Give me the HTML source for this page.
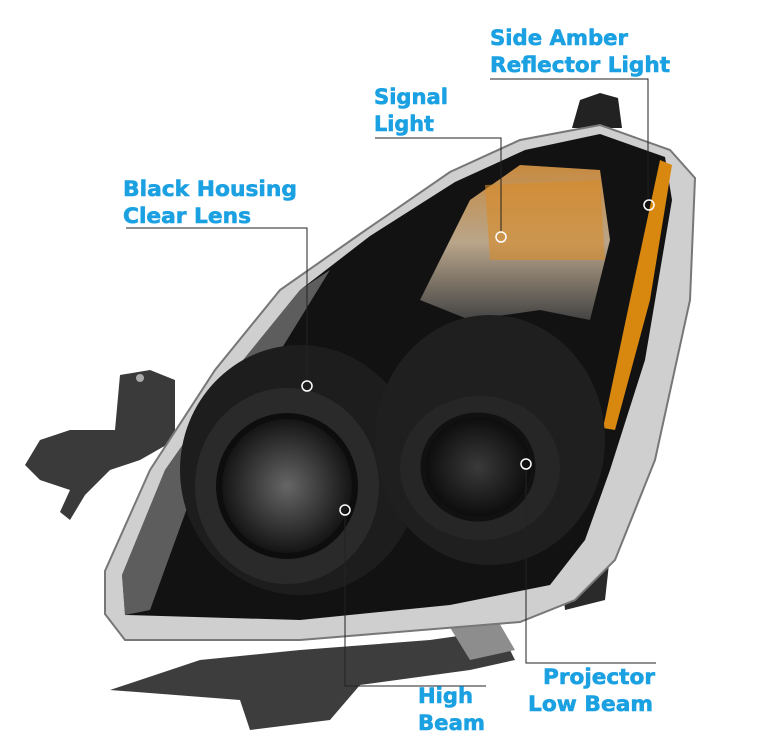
<!DOCTYPE html>
<html><head><style>
html,body{margin:0;padding:0;background:#fff;width:780px;height:750px;overflow:hidden}
svg{display:block}
text{font-family:"DejaVu Sans","Liberation Sans",sans-serif;font-weight:bold;font-size:21px;fill:#1ba1e2;stroke:#1ba1e2;stroke-width:0.6}
</style></head><body>
<svg width="780" height="750" viewBox="0 0 780 750">
<defs>
<radialGradient id="hb" cx="0.5" cy="0.5" r="0.5"><stop offset="0" stop-color="#666"/><stop offset="0.6" stop-color="#333"/><stop offset="1" stop-color="#111"/></radialGradient>
<radialGradient id="pj" cx="0.5" cy="0.5" r="0.5"><stop offset="0" stop-color="#3a3a3a"/><stop offset="1" stop-color="#0b0b0b"/></radialGradient>
<linearGradient id="sig" x1="0" y1="0" x2="0" y2="1"><stop offset="0" stop-color="#c78a40"/><stop offset="0.5" stop-color="#b9a58a"/><stop offset="1" stop-color="#444"/></linearGradient>
</defs>
<path d="M572,128 L580,100 L600,93 L618,98 L622,128 Z" fill="#222"/>
<path d="M120,375 L150,370 L175,380 L175,440 L140,460 L110,470 L85,495 L70,520 L60,512 L70,490 L40,480 L25,465 L40,440 L70,430 L115,430 Z" fill="#3a3a3a"/>
<circle cx="140" cy="378" r="4" fill="#aaa"/>
<path d="M110,690 L200,660 L300,650 L430,640 L500,630 L515,660 L470,670 L360,685 L330,720 L250,730 L240,700 Z" fill="#3d3d3d"/>
<path d="M430,595 L480,590 L515,650 L470,660 Z" fill="#8d8d8d"/>
<path d="M560,560 L610,555 L605,600 L565,610 Z" fill="#2a2a2a"/>
<path d="M105,614 L105,571 L150,470 L215,370 L280,290 L360,234 L450,172 L520,140 L600,125 L670,150 L695,178 L690,300 L655,460 L615,560 L575,600 L520,622 L300,640 L125,640 Z" fill="#cfcfcf" stroke="#777" stroke-width="2"/>
<path d="M125,615 L122,575 L165,470 L235,370 L300,290 L370,236 L455,182 L525,150 L600,134 L665,157 L672,200 L645,360 L610,470 L585,540 L550,585 L450,605 L300,620 Z" fill="#121212"/>
<path d="M125,615 L122,575 L165,470 L235,370 L300,290 L330,270 L250,400 L190,500 L150,610 Z" fill="#9a9a9a" opacity="0.55"/>
<path d="M470,200 L520,165 L600,170 L610,240 L590,320 L540,310 L470,320 L420,300 Z" fill="url(#sig)"/>
<path d="M485,185 L600,180 L605,260 L490,260 Z" fill="#d88c2a" opacity="0.6"/>
<path d="M660,160 L672,165 L650,300 L615,430 L603,428 L630,300 Z" fill="#d8870f"/>
<ellipse cx="300" cy="470" rx="120" ry="125" fill="#1d1d1d"/>
<ellipse cx="490" cy="440" rx="115" ry="125" fill="#1f1f1f"/>
<ellipse cx="287" cy="486" rx="92" ry="98" fill="#2a2a2a"/>
<ellipse cx="287" cy="486" rx="68" ry="70" fill="url(#hb)" stroke="#0d0d0d" stroke-width="6"/>
<ellipse cx="480" cy="468" rx="80" ry="72" fill="#262626"/>
<ellipse cx="478" cy="467" rx="55" ry="52" fill="url(#pj)" stroke="#111" stroke-width="5"/>
<g stroke="#222" stroke-width="1" fill="none">
<polyline points="490,79 648,79 648,198"/>
<polyline points="375,138 501,138 501,231"/>
<polyline points="126,228 307,228 307,380"/>
<polyline points="345,516 345,686 486,686"/>
<polyline points="526,470 526,663 656,663"/>
</g>
<g stroke="#fff" stroke-width="1.5" fill="none">
<circle cx="649" cy="205" r="5"/><circle cx="501" cy="237" r="5"/>
<circle cx="307" cy="386" r="5"/><circle cx="345" cy="510" r="5"/>
<circle cx="526" cy="464" r="5"/>
</g>
<text x="490" y="45" textLength="138" lengthAdjust="spacingAndGlyphs">Side Amber</text>
<text x="490" y="72" textLength="180" lengthAdjust="spacingAndGlyphs">Reflector Light</text>
<text x="374" y="104" textLength="74" lengthAdjust="spacingAndGlyphs">Signal</text>
<text x="374" y="131" textLength="60" lengthAdjust="spacingAndGlyphs">Light</text>
<text x="123" y="196" textLength="174" lengthAdjust="spacingAndGlyphs">Black Housing</text>
<text x="123" y="223" textLength="128" lengthAdjust="spacingAndGlyphs">Clear Lens</text>
<text x="418" y="703" textLength="55" lengthAdjust="spacingAndGlyphs">High</text>
<text x="418" y="730" textLength="67" lengthAdjust="spacingAndGlyphs">Beam</text>
<text x="543" y="684" textLength="112" lengthAdjust="spacingAndGlyphs">Projector</text>
<text x="528" y="711" textLength="125" lengthAdjust="spacingAndGlyphs">Low Beam</text>
</svg>
</body></html>
